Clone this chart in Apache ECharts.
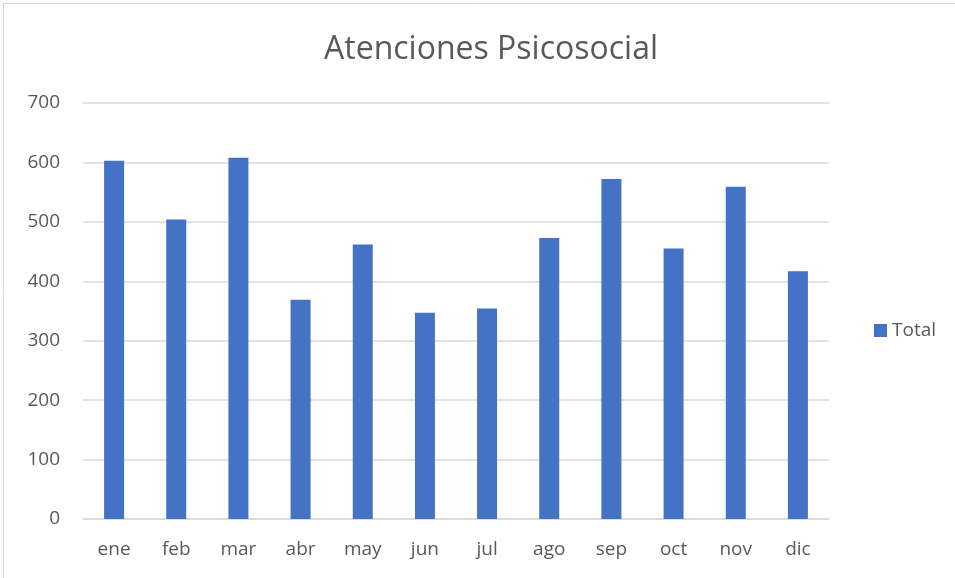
<!DOCTYPE html>
<html>
<head>
<meta charset="utf-8">
<script src="https://cdn.jsdelivr.net/npm/echarts@6/dist/echarts.min.js"></script>
<style>
  html, body { margin: 0; padding: 0; background: #fff; }
  #chart { width: 955px; height: 578px; }
</style>
</head>
<body>
<div id="chart"></div>
<script>
const months = ['ene', 'feb', 'mar', 'abr', 'may', 'jun', 'jul', 'ago', 'sep', 'oct', 'nov', 'dic'];
const totals = [603, 504, 608, 369, 462, 347, 354, 473, 572, 455, 559, 417];
const yTicks = [0, 100, 200, 300, 400, 500, 600, 700];

const chart = echarts.init(document.getElementById('chart'));
const font = 'Open Sans, Liberation Sans, sans-serif';

chart.setOption({
    animation: false,
    backgroundColor: '#fff',
    title: {
        text: 'Atenciones Psicosocial',
        left: 486,
        textAlign: 'center',
        top: 29,
        textStyle: { fontFamily: font, fontSize: 32, fontWeight: 'normal', color: '#595959' }
    },
    legend: {
        data: ['Total'],
        left: 869,
        top: 316,
        itemWidth: 13,
        itemHeight: 13,
        itemGap: 6,
        icon: 'rect',
        textStyle: { fontFamily: font, fontSize: 19, color: '#595959' }
    },
    grid: { left: 83, right: 126, top: 103, bottom: 59 },
    xAxis: {
        type: 'category',
        data: months,
        axisLine: { lineStyle: { color: '#d9d9d9', width: 1.5 } },
        axisTick: { show: false },
        axisLabel: { fontFamily: font, fontSize: 19, color: '#595959', margin: 21 }
    },
    yAxis: {
        type: 'value',
        min: yTicks[0],
        max: yTicks[yTicks.length - 1],
        interval: 100,
        axisLine: { show: false },
        axisTick: { show: false },
        axisLabel: { fontFamily: font, fontSize: 19, color: '#595959', margin: 23 },
        splitLine: { lineStyle: { color: '#d9d9d9', width: 1.5 } }
    },
    series: [{
        name: 'Total',
        type: 'bar',
        data: totals,
        barWidth: 20,
        itemStyle: { color: '#4472c4' }
    }],
    graphic: [{
        type: 'rect',
        shape: { x: 3.5, y: 3.5, width: 960, height: 580 },
        style: { fill: 'none', stroke: '#d9d9d9', lineWidth: 1 }
    }]
});
</script>
</body>
</html>
